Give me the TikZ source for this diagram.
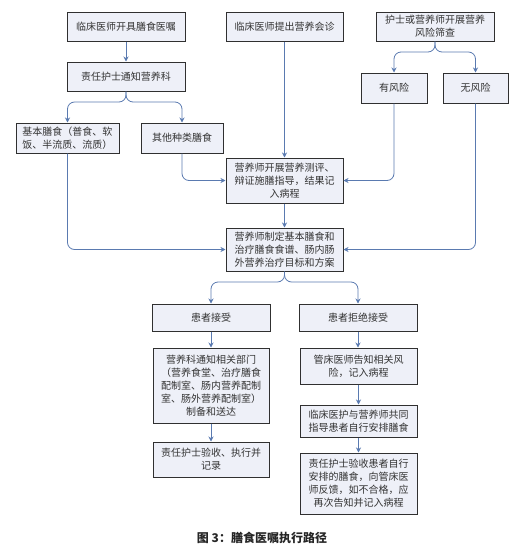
\documentclass[tikz,border=0pt]{standalone}
\usepackage{fontspec}
\newfontfamily\cjk{Noto Sans CJK SC}
\usetikzlibrary{arrows.meta}
\definecolor{boxfill}{HTML}{EEF0F8}
\definecolor{boxline}{HTML}{303030}
\definecolor{conn}{HTML}{5A7AB0}
\definecolor{txt}{HTML}{333333}
\tikzset{
  fbox/.style={draw=boxline, fill=boxfill, line width=1pt, align=center, inner sep=0pt,
    text=txt, font=\cjk\fontsize{10}{13}\selectfont},
  conn/.style={draw=conn, line width=0.8pt, -{Stealth[length=5pt,width=5pt]}},
  branch/.style={conn, rounded corners=7pt},
}
\begin{document}
\begin{tikzpicture}[x=1pt,y=-1pt]
\useasboundingbox (0,0) rectangle (525,552);
% boxes
\node[fbox, minimum width=118pt, minimum height=29pt] (n1) at (126,26.5) {临床医师开具膳食医嘱};
\node[fbox, minimum width=118pt, minimum height=29pt] (n2) at (126,76.5) {责任护士通知营养科};
\node[fbox, minimum width=103pt, minimum height=30pt] (n3) at (67.5,138) {基本膳食（普食、软\\饭、半流质、流质）};
\node[fbox, minimum width=82pt, minimum height=30pt] (n4) at (182,138) {其他种类膳食};
\node[fbox, minimum width=117pt, minimum height=29pt] (n5) at (284.5,26.5) {临床医师提出营养会诊};
\node[fbox, minimum width=118pt, minimum height=29pt] (n6) at (435,26.5) {护士或营养师开展营养\\风险筛查};
\node[fbox, minimum width=66pt, minimum height=30pt] (n7) at (394,88) {有风险};
\node[fbox, minimum width=65pt, minimum height=30pt] (n8) at (475.5,88) {无风险};
\node[fbox, minimum width=117pt, minimum height=45pt] (n9) at (284.5,180.5) {营养师开展营养测评、\\辩证施膳指导，结果记\\入病程};
\node[fbox, minimum width=117pt, minimum height=43pt] (n10) at (284.5,249.5) {营养师制定基本膳食和\\治疗膳食食谱、肠内肠\\外营养治疗目标和方案};
\node[fbox, minimum width=118pt, minimum height=27pt] (n11) at (211,317.5) {患者接受};
\node[fbox, minimum width=118pt, minimum height=27pt] (n12) at (358,317.5) {患者拒绝接受};
\node[fbox, minimum width=116pt, minimum height=75pt] (n13) at (211,385.5) {营养科通知相关部门\\（营养食堂、治疗膳食\\配制室、肠内营养配制\\室、肠外营养配制室）\\制备和送达};
\node[fbox, minimum width=116pt, minimum height=35pt] (n14) at (211,459.5) {责任护士验收、执行并\\记录};
\node[fbox, minimum width=117pt, minimum height=36pt] (n15) at (358.5,366) {管床医师告知相关风\\险，记入病程};
\node[fbox, minimum width=117pt, minimum height=32pt] (n16) at (358.5,421) {临床医护与营养师共同\\指导患者自行安排膳食};
\node[fbox, minimum width=117pt, minimum height=61pt] (n17) at (358.5,483.5) {责任护士验收患者自行\\安排的膳食，向管床医\\师反馈，如不合格，应\\再次告知并记入病程};
\node[font=\cjk\bfseries\fontsize{12}{14}\selectfont, text=black!85] (cap) at (262,538) {图 3：膳食医嘱执行路径};
% branch points
\coordinate (b1) at (126,102);
\coordinate (b2) at (435,52);
\coordinate (b3) at (284.5,282);
% connectors
\draw[conn] (n1) -- (n2);
\draw[branch] (n2.south) -- (b1) -| (n3.north);
\draw[branch] (n2.south) -- (b1) -| (n4.north);
\draw[branch] (n6.south) -- (b2) -| (n7.north);
\draw[branch] (n6.south) -- (b2) -| (n8.north);
\draw[conn] (n5) -- (n9);
\draw[branch] (n4.south) |- (n9.west);
\draw[branch] (n7.south) |- (n9.east);
\draw[branch] (n3.south) |- (n10.west);
\draw[branch] (n8.south) |- (n10.east);
\draw[conn] (n9) -- (n10);
\draw[branch] (n10.south) -- (b3) -| (n11.north);
\draw[branch] (n10.south) -- (b3) -| (n12.north);
\draw[conn] (n11) -- (n13);
\draw[conn] (n13) -- (n14);
\draw[conn] (n12.south) -- (n15.north -| n12.south);
\draw[conn] (n15) -- (n16);
\draw[conn] (n16) -- (n17);
\end{tikzpicture}
\end{document}
